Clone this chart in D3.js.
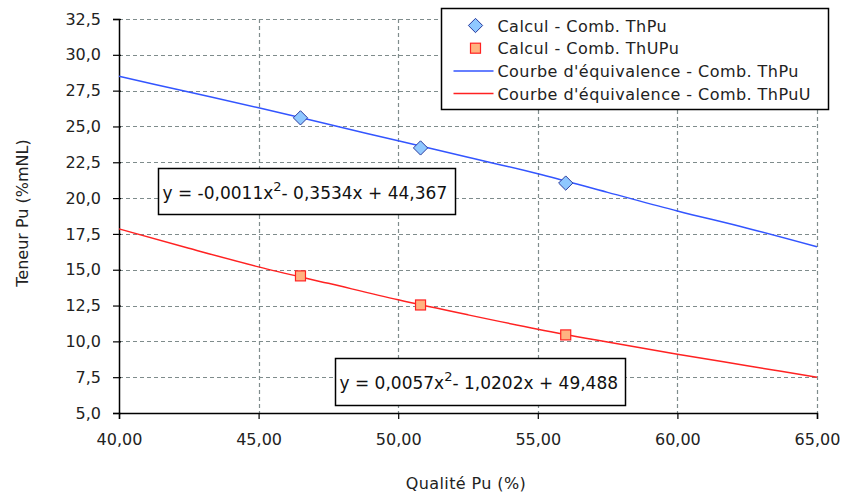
<!DOCTYPE html>
<html>
<head>
<meta charset="utf-8">
<script src="https://cdn.jsdelivr.net/npm/d3@7"></script>
<style>
  body { margin: 0; background: #fff; }
  text { font-family: "DejaVu Sans", sans-serif; }
</style>
</head>
<body>
<div id="chart"></div>
<script>
// data
var calcQual = [46.5, 50.8, 56.0]
var calcThPu = [25.6, 23.5, 21.05]
var calcThUPu = [14.57, 12.54, 10.45]

var curveQual = [40, 42.5, 45, 47.5, 50, 52.5, 55, 57.5, 60, 62.5, 65]
var curveThPu = [28.5, 27.4, 26.3, 25.15, 24.0, 22.85, 21.7, 20.4, 19.1, 17.9, 16.6]
var curveThPuU = [17.85, 16.5, 15.2, 14.05, 12.9, 11.85, 10.85, 9.95, 9.1, 8.3, 7.5]

var xTicks = [40, 45, 50, 55, 60, 65]
var yTicks = [5, 7.5, 10, 12.5, 15, 17.5, 20, 22.5, 25, 27.5, 30, 32.5]

var legendLabels = ['Calcul - Comb. ThPu', 'Calcul - Comb. ThUPu',
  "Courbe d'équivalence - Comb. ThPu", "Courbe d'équivalence - Comb. ThPuU"]

// size and margins
var margin = { top: 19, right: 26, bottom: 83, left: 119 }
var width = 843 - margin.left - margin.right
var height = 496 - margin.top - margin.bottom

var svg = d3.select('#chart')
  .append('svg')
  .attr('width', 843)
  .attr('height', 496)

var g = svg.append('g')
  .attr('transform', 'translate(' + margin.left + ',' + margin.top + ')')

var x = d3.scaleLinear().domain([40, 65]).range([0, width])
var y = d3.scaleLinear().domain([5, 32.5]).range([height, 0])

var fmtX = function (d) { return d.toFixed(2).replace('.', ',') }
var fmtY = function (d) { return d.toFixed(1).replace('.', ',') }

// grid
g.selectAll('.hgrid')
  .data(yTicks.slice(1))
  .enter()
  .append('line')
  .attr('x1', 0).attr('x2', width)
  .attr('y1', d => Math.round(y(d)) + 0.5).attr('y2', d => Math.round(y(d)) + 0.5)
  .attr('stroke', '#7f8c8c').attr('stroke-width', 1.2).attr('stroke-dasharray', '4,3')

g.selectAll('.vgrid')
  .data(xTicks.slice(1))
  .enter()
  .append('line')
  .attr('y1', 0).attr('y2', height)
  .attr('x1', d => Math.round(x(d)) + 0.5).attr('x2', d => Math.round(x(d)) + 0.5)
  .attr('stroke', '#7f8c8c').attr('stroke-width', 1.2).attr('stroke-dasharray', '4,3')

// axes
var xAxis = g.append('g')
  .attr('transform', 'translate(0,' + height + ')')
  .call(d3.axisBottom(x).tickValues(xTicks).tickFormat(fmtX).tickSize(6).tickPadding(15))
var yAxis = g.append('g')
  .call(d3.axisLeft(y).tickValues(yTicks).tickFormat(fmtY).tickSize(6).tickPadding(12))

yAxis.selectAll('.tick line').attr('x1', 2).attr('x2', -6)
;[xAxis, yAxis].forEach(function (a) {
  a.select('.domain').attr('stroke', '#000').attr('stroke-width', 1.5)
  a.selectAll('.tick line').attr('stroke', '#000').attr('stroke-width', 1.2)
  a.selectAll('.tick text').attr('font-size', '16px').attr('fill', '#222')
    .style('font-family', '"DejaVu Sans", sans-serif')
})

// axis titles
svg.append('text')
  .attr('x', 466).attr('y', 489)
  .attr('text-anchor', 'middle')
  .attr('font-size', '16px').attr('fill', '#222')
  .style('letter-spacing', '0.4px')
  .text('Qualité Pu (%)')
svg.append('text')
  .attr('transform', 'translate(28,213) rotate(-90)')
  .attr('text-anchor', 'middle')
  .attr('font-size', '16px').attr('fill', '#222')
  .text('Teneur Pu (%mNL)')

// curves
var line = d3.line().x(d => x(d[0])).y(d => y(d[1])).curve(d3.curveMonotoneX)
g.append('path')
  .datum(d3.zip(curveQual, curveThPu))
  .attr('d', line).attr('fill', 'none').attr('stroke', '#3355ff').attr('stroke-width', 1.5)
g.append('path')
  .datum(d3.zip(curveQual, curveThPuU))
  .attr('d', line).attr('fill', 'none').attr('stroke', '#ff2222').attr('stroke-width', 1.5)

// markers
var diamond = d3.symbol().type(d3.symbolDiamond2).size(130)
g.selectAll('.diam')
  .data(d3.zip(calcQual, calcThPu))
  .enter()
  .append('path')
  .attr('d', diamond)
  .attr('transform', d => 'translate(' + x(d[0]) + ',' + y(d[1]) + ')')
  .attr('fill', '#8fc8ff').attr('stroke', '#2b3b9e').attr('stroke-width', 1)
g.selectAll('.sq')
  .data(d3.zip(calcQual, calcThUPu))
  .enter()
  .append('rect')
  .attr('x', d => x(d[0]) - 5).attr('y', d => y(d[1]) - 5)
  .attr('width', 10).attr('height', 10)
  .attr('fill', '#ffb380').attr('stroke', '#ff2222').attr('stroke-width', 1.2)

// equation boxes
function eqBox(bx, by, bw, bh, parts) {
  var b = svg.append('g').attr('transform', 'translate(' + bx + ',' + by + ')')
  b.append('rect').attr('width', bw).attr('height', bh)
    .attr('fill', '#fff').attr('stroke', '#000').attr('stroke-width', 1.5)
  var t = b.append('text').attr('x', 4).attr('y', bh / 2 + 7)
    .attr('font-size', '17px').attr('fill', '#111')
  t.append('tspan').text(parts[0])
  t.append('tspan').attr('dy', -8).attr('font-size', '13px').text('2')
  t.append('tspan').attr('dy', 8).text(parts[1])
}
eqBox(158.5, 168.5, 297, 46, ['y = -0,0011x', '- 0,3534x + 44,367'])
eqBox(335.5, 358.5, 290, 47, ['y = 0,0057x', '- 1,0202x + 49,488'])

// legend
var lg = svg.append('g').attr('transform', 'translate(441.5,8.5)')
lg.append('rect').attr('width', 387).attr('height', 101)
  .attr('fill', '#fff').attr('stroke', '#000').attr('stroke-width', 1.5)
var rows = lg.selectAll('.row')
  .data(legendLabels)
  .enter()
  .append('g')
  .attr('transform', (d, i) => 'translate(0,' + (17 + i * 22.7) + ')')
rows.append('text')
  .attr('x', 56).attr('y', 6)
  .attr('font-size', '16px').attr('fill', '#222')
  .style('letter-spacing', '0.45px')
  .text(d => d)
rows.filter((d, i) => i === 0).append('path')
  .attr('d', diamond).attr('transform', 'translate(34,0)')
  .attr('fill', '#8fc8ff').attr('stroke', '#2b3b9e')
rows.filter((d, i) => i === 1).append('rect')
  .attr('x', 29).attr('y', -5).attr('width', 10).attr('height', 10)
  .attr('fill', '#ffb380').attr('stroke', '#ff2222').attr('stroke-width', 1.2)
rows.filter((d, i) => i >= 2).append('line')
  .attr('x1', 12).attr('x2', 52)
  .attr('stroke', (d, i) => i === 0 ? '#3355ff' : '#ff2222').attr('stroke-width', 1.5)
</script>
</body>
</html>
